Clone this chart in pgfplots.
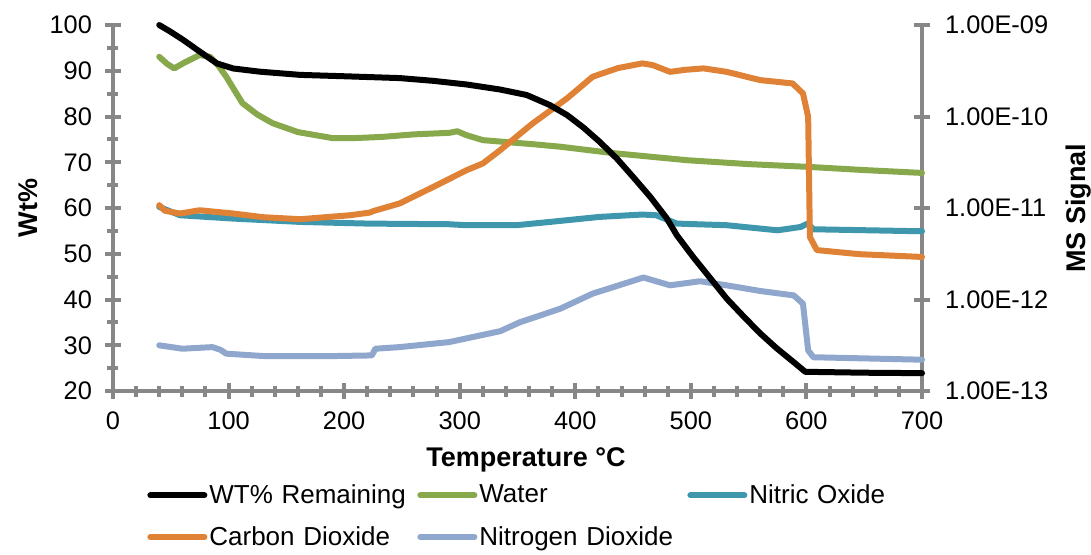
\documentclass[border=0pt]{standalone}
\usepackage{pgfplots}
\pgfplotsset{compat=1.18}
\usepackage{fontspec}
\setmainfont{Liberation Sans}
\definecolor{cgreen}{HTML}{87A84B}
\definecolor{cteal}{HTML}{3F97AE}
\definecolor{corange}{HTML}{DF8235}
\definecolor{cblue}{HTML}{8FA7CD}
\definecolor{cgray}{HTML}{878787}
\pgfplotsset{
  common/.style={
    width=404.5pt, height=183pt, scale only axis,
    xmin=0, xmax=700,
    tick align=center,
    axis line style={cgray, line width=2pt, -},
    every tick/.style={cgray, line width=2pt},
    major tick length=8pt, minor tick length=5.5pt,
    tick label style={font=\fontsize{12.7}{15}\selectfont},
    /pgf/number format/assume math mode=true,
    clip=false,
  },
  dl/.style={line width=3pt, line join=round, line cap=round},
}
\begin{document}
\begin{tikzpicture}
\useasboundingbox (-56.5pt,-81.5pt) rectangle (489pt,195.5pt);
% right log axis with MS signals
\begin{axis}[common,
  ymode=log, ymin=1e-13, ymax=1e-9,
  axis y line*=right, axis x line=none,
  ytick={1e-13,1e-12,1e-11,1e-10,1e-9},
  yticklabels={1.00E-13,1.00E-12,1.00E-11,1.00E-10,1.00E-09},
  yminorticks=false,
  yticklabel style={anchor=west, xshift=4pt},
  ylabel={\bfseries MS Signal},
  ylabel style={at={(axis description cs:1.194,0.5)}, anchor=center, font=\fontsize{13.5}{16}\selectfont},
  legend columns=3,
  legend style={at={(axis description cs:0.042,-0.243)}, anchor=north west, draw=none, fill=none,
    inner sep=0pt, column sep=0pt, row sep=6pt,
    font=\fontsize{13}{15.5}\selectfont,
    nodes={text width=103pt, align=left, inner xsep=1pt}},
  legend cell align=left,
  legend image code/.code={\draw[#1, line width=3pt, line cap=round] (0pt,0pt) -- (27pt,0pt);},
]
\addlegendimage{black}
\addlegendentry{WT\% Remaining}
\addplot[cgreen, dl] coordinates {
(40,4.50e-10) (47,3.75e-10) (53,3.36e-10) (62,3.90e-10) (75,4.70e-10) (84,4.50e-10)
(91,3.63e-10) (98,2.72e-10) (105,1.95e-10) (112,1.40e-10) (125,1.05e-10) (138,8.47e-11)
(160,6.76e-11) (190,5.81e-11) (210,5.82e-11) (233,5.99e-11) (260,6.38e-11) (291,6.64e-11)
(298,6.90e-11) (305,6.31e-11) (320,5.52e-11) (363,4.99e-11) (387,4.68e-11) (433,3.98e-11)
(497,3.33e-11) (550,3.02e-11) (601,2.82e-11) (650,2.60e-11) (700,2.42e-11)
};
\addlegendentry{Water}
\addplot[cteal, dl] coordinates {
(40,1.028e-11) (58,8.34e-12) (104,7.67e-12) (162,7.05e-12) (221,6.76e-12) (291,6.65e-12)
(306,6.49e-12) (349,6.49e-12) (378,7.05e-12) (421,8.0e-12) (458,8.49e-12) (470,8.34e-12)
(488,6.76e-12) (531,6.49e-12) (575,5.71e-12) (595,6.21e-12) (601,6.76e-12) (606,5.86e-12)
(700,5.57e-12)
};
\addlegendentry{Nitric Oxide}
\addplot[corange, dl] coordinates {
(40,1.074e-11) (45,9.33e-12) (58,8.71e-12) (75,9.46e-12) (104,8.71e-12) (130,7.94e-12)
(162,7.55e-12) (205,8.34e-12) (222,8.91e-12) (226,9.33e-12) (248,1.122e-11) (277,1.698e-11)
(306,2.594e-11) (320,3.07e-11) (335,4.29e-11) (363,8.39e-11) (393,1.585e-10) (415,2.72e-10)
(437,3.39e-10) (458,3.81e-10) (467,3.65e-10) (482,3.08e-10) (495,3.24e-10) (511,3.36e-10)
(531,3.08e-10) (560,2.50e-10) (588,2.30e-10) (597,1.79e-10) (601.5,9.93e-11) (603,4.83e-12)
(609,3.47e-12) (646,3.13e-12) (700,2.92e-12)
};
\addlegendentry{Carbon Dioxide}
\addplot[cblue, dl] coordinates {
(40,3.16e-13) (60,2.90e-13) (86,3.02e-13) (93,2.82e-13) (98,2.56e-13) (133,2.40e-13)
(190,2.41e-13) (224,2.45e-13) (227,2.90e-13) (248,3.02e-13) (291,3.43e-13) (335,4.51e-13)
(352,5.64e-13) (387,7.94e-13) (415,1.16e-12) (459,1.74e-12) (482,1.43e-12) (508,1.585e-12)
(531,1.43e-12) (560,1.24e-12) (589,1.11e-12) (597,9.02e-13) (601.5,2.78e-13) (606,2.34e-13)
(700,2.20e-13)
};
\addlegendentry{Nitrogen Dioxide}
\end{axis}
% left linear axis with weight
\begin{axis}[common,
  ymin=20, ymax=100,
  axis y line*=left, axis x line*=bottom,
  xtick={0,100,...,700}, minor x tick num=4,
  ytick={20,30,...,100}, minor y tick num=1,
  yticklabel style={anchor=east, xshift=-3pt},
  xticklabel style={anchor=north, yshift=-3pt},
  xlabel={\bfseries Temperature \textdegree C},
  xlabel style={at={(axis description cs:0.5105,-0.1885)}, anchor=center, font=\fontsize{13.5}{16}\selectfont},
  ylabel={\bfseries Wt\%},
  ylabel style={at={(axis description cs:-0.105,0.5)}, anchor=center, font=\fontsize{13.5}{16}\selectfont},
]
\addplot[black, dl] coordinates {
(40,100) (50,98.5) (61,96.7) (75,94.2) (90,91.6) (104,90.5) (127,89.8) (162,89.1) (200,88.8)
(248,88.4) (277,87.8) (306,87.0) (335,85.9) (358,84.7) (378,82.5) (393,80.3) (407,77.6)
(421,74.5) (436,70.8) (450,66.8) (465,62.4) (479,57.8) (488,54.0) (502,49.3) (517,44.6)
(531,40.2) (546,36.2) (560,32.6) (574,29.4) (589,26.3) (599,24.2) (650,24.0) (700,23.9)
};
\end{axis}
\end{tikzpicture}
\end{document}
